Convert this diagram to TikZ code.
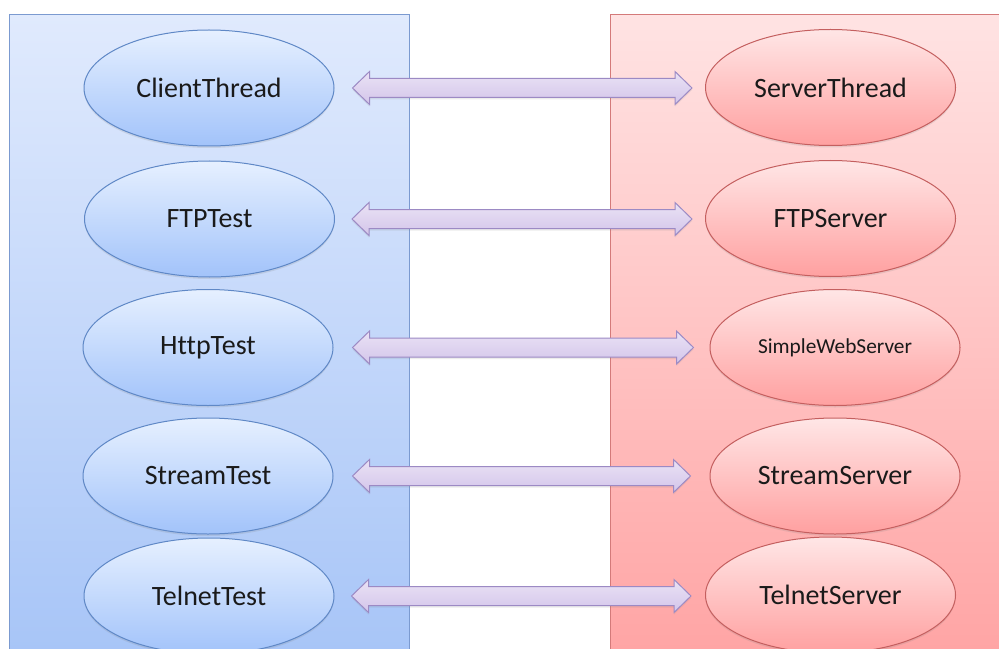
\documentclass[tikz,border=0pt]{standalone}
\usepackage{fontspec}
\setmainfont{Carlito}[Ligatures=CommonOff]
\usetikzlibrary{shapes.geometric,calc,shadows}
\definecolor{lpaneltop}{HTML}{E0EAFD}
\definecolor{lpanelbot}{HTML}{A6C4F7}
\definecolor{lpanelbd}{HTML}{7B9AD0}
\definecolor{rpaneltop}{HTML}{FFE3E3}
\definecolor{rpanelbot}{HTML}{FFA3A3}
\definecolor{rpanelbd}{HTML}{D47A7A}
\definecolor{bluetop}{HTML}{E6F0FF}
\definecolor{bluebot}{HTML}{A2C3FA}
\definecolor{bluebd}{HTML}{5F88C6}
\definecolor{redtop}{HTML}{FFE6E6}
\definecolor{redbot}{HTML}{FFA0A0}
\definecolor{redbd}{HTML}{C45F5F}
\definecolor{arrtop}{HTML}{EAE2F5}
\definecolor{arrbot}{HTML}{D3C5EA}
\definecolor{arrbd}{HTML}{9C8AC4}
\definecolor{txt}{HTML}{1A1A1A}
\newcommand\dblarr[2]{%
  \draw[arrowsty] let \p1=(#1), \p2=(#2) in
    (\x1,\y1) -- (\x1+12.75pt,\y1+12.375pt) -- (\x1+12.75pt,\y1+7.125pt)
    -- (\x2-12.75pt,\y1+7.125pt) -- (\x2-12.75pt,\y1+12.375pt) -- (\x2,\y1)
    -- (\x2-12.75pt,\y1-12.375pt) -- (\x2-12.75pt,\y1-7.125pt)
    -- (\x1+12.75pt,\y1-7.125pt) -- (\x1+12.75pt,\y1-12.375pt) -- cycle;}
\begin{document}
\begin{tikzpicture}[x=0.75pt,y=-0.75pt,
  ellbase/.style={ellipse, line width=0.75pt, minimum width=250*0.75pt,
    minimum height=116*0.75pt, inner sep=0pt, text=txt,
    font=\fontsize{21}{25}\selectfont,
    drop shadow={opacity=0.18, shadow xshift=0pt, shadow yshift=-1.5pt}},
  blueell/.style={ellbase, draw=bluebd, top color=bluetop, bottom color=bluebot},
  redell/.style={ellbase, draw=redbd, top color=redtop, bottom color=redbot},
  arrowsty/.style={draw=arrbd, line width=0.75pt, top color=arrtop, bottom color=arrbot,
    line join=miter,
    drop shadow={opacity=0.15, shadow xshift=0pt, shadow yshift=-1.5pt}},
  lpanel/.style={draw=lpanelbd, line width=0.75pt, top color=lpaneltop, bottom color=lpanelbot},
  rpanel/.style={draw=rpanelbd, line width=0.75pt, top color=rpaneltop, bottom color=rpanelbot}
]
\clip (0,0) rectangle (999,649);
\fill[white] (0,0) rectangle (999,649);
\path[lpanel] (9.5,14.5) rectangle (409.5,670);
\path[rpanel] (610,14.5) rectangle (1020,670);

\node[blueell] (c1) at (209,88) {ClientThread};
\node[blueell] (c2) at (209.5,219) {FTPTest};
\node[blueell] (c3) at (208,347.5) {HttpTest};
\node[blueell] (c4) at (208,476) {StreamTest};
\node[blueell] (c5) at (209,596) {TelnetTest};

\node[redell] (s1) at (830.5,87.5) {ServerThread};
\node[redell] (s2) at (830.5,218.5) {FTPServer};
\node[redell, font=\fontsize{16}{19}\selectfont] (s3) at (835,347.5) {SimpleWebServer};
\node[redell] (s4) at (835,476) {StreamServer};
\node[redell] (s5) at (830.5,595) {TelnetServer};

\path (c1.east) ++(18,0) coordinate (a1);
\path (c2.east) ++(17,0) coordinate (a2);
\path (c3.east) ++(19,0) coordinate (a3);
\path (c4.east) ++(19,0) coordinate (a4);
\path (c5.east) ++(17,0) coordinate (a5);
\path (s1.west) ++(-13,0) coordinate (b1);
\path (s2.west) ++(-13,0) coordinate (b2);
\path (s3.west) ++(-16,0) coordinate (b3);
\path (s4.west) ++(-19,0) coordinate (b4);
\path (s5.west) ++(-14,0) coordinate (b5);

\dblarr{a1}{b1}
\dblarr{a2}{b2}
\dblarr{a3}{b3}
\dblarr{a4}{b4}
\dblarr{a5}{b5}
\end{tikzpicture}
\end{document}
